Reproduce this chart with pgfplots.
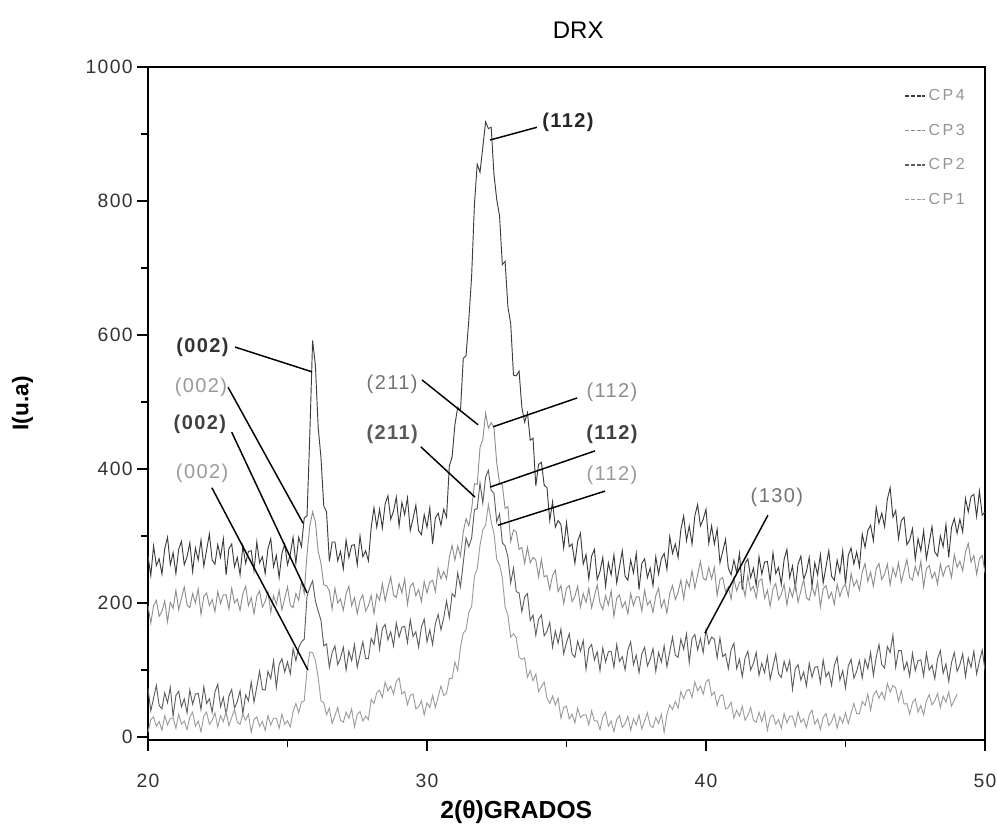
\documentclass[border=0pt]{standalone}
\usepackage{pgfplots}
\pgfplotsset{compat=1.18}
\usepackage{pgfplotstable}
\usepackage{fontspec}
\setmainfont{Liberation Sans}
\newfontfamily\spaced[LetterSpace=7]{Liberation Sans}
\newfontfamily\wide[LetterSpace=15]{Liberation Sans}
\definecolor{cpfour}{HTML}{3C3C3C}
\definecolor{cpthree}{HTML}{8E8E8E}
\definecolor{cptwo}{HTML}{5E5E5E}
\definecolor{cpone}{HTML}{9C9C9C}

% DRX patterns, columns CP4 CP3 CP2 CP1
\pgfplotstableread{
x cp4 cp3 cp2 cp1
20.0 270 196 73 7
20.1 241 170 39 26
20.2 285 196 58 30
20.3 256 204 77 16
20.4 266 180 47 23
20.5 243 188 42 10
20.6 281 203 66 32
20.7 298 172 51 18
20.8 257 201 74 28
20.9 275 192 31 28
21.0 244 219 62 13
21.1 280 190 68 34
21.2 292 207 45 19
21.3 257 224 57 24
21.4 269 197 36 11
21.5 290 193 70 30
21.6 247 214 49 37
21.7 282 200 64 16
21.8 264 221 65 24
21.9 294 183 41 8
22.0 255 210 75 31
22.1 279 215 50 37
22.2 303 196 57 19
22.3 264 205 37 25
22.4 258 187 67 36
22.5 287 217 79 15
22.6 268 199 45 32
22.7 296 212 59 23
22.8 242 212 33 38
22.9 281 191 61 17
23.0 288 222 71 29
23.1 254 200 43 41
23.2 268 206 53 22
23.3 242 189 69 19
23.4 285 214 35 34
23.5 259 225 63 25
23.6 277 196 54 34
23.7 278 208 82 7
23.8 248 184 52 26
23.9 291 210 75 30
24.0 260 218 98 16
24.1 269 194 71 23
24.2 244 202 70 10
24.3 281 217 98 32
24.4 296 186 87 18
24.5 254 211 114 28
24.6 271 198 74 28
24.7 238 219 108 13
24.8 274 190 117 34
24.9 288 207 97 19
25.0 257 224 112 24
25.1 273 197 94 15
25.2 298 193 132 38
25.3 259 214 114 50
25.4 298 204 133 36
25.5 284 232 142 52
25.6 327 214 146 54
25.7 330 273 210 100
25.8 452 315 223 127
25.9 592 336 233 126
26.0 555 321 203 114
26.1 462 277 188 89
26.2 417 259 174 54
26.3 345 227 136 51
26.4 336 226 139 33
26.5 262 218 104 43
26.6 291 191 126 20
26.7 291 222 136 32
26.8 263 200 108 44
26.9 277 206 118 25
27.0 251 189 134 22
27.1 294 214 100 37
27.2 268 225 128 28
27.3 286 196 114 42
27.4 287 208 138 15
27.5 257 184 104 34
27.6 300 204 123 38
27.7 269 212 142 24
27.8 278 188 117 31
27.9 263 196 117 26
28.0 313 211 147 56
28.1 342 184 138 50
28.2 313 213 167 66
28.3 340 204 131 70
28.4 312 229 162 59
28.5 348 203 168 82
28.6 360 222 145 69
28.7 325 239 157 76
28.8 337 212 136 64
28.9 358 208 170 83
29.0 315 229 149 88
29.1 350 215 164 64
29.2 332 236 165 68
29.3 357 198 141 48
29.4 308 225 175 62
29.5 326 230 150 64
29.6 346 211 157 42
29.7 308 220 134 45
29.8 302 202 164 54
29.9 332 232 176 33
30.0 313 215 142 51
30.1 342 231 160 44
30.2 288 234 138 62
30.3 327 217 169 44
30.4 334 252 183 60
30.5 316 236 160 76
30.6 340 247 178 62
30.7 328 236 203 65
30.8 404 268 178 87
30.9 418 286 214 87
31.0 466 264 209 112
31.1 492 285 245 99
31.2 487 270 224 134
31.3 565 306 260 155
31.4 569 326 297 160
31.5 623 315 284 186
31.6 688 340 297 195
31.7 795 378 339 240
31.8 855 377 341 251
31.9 843 432 379 286
32.0 880 444 349 309
32.1 918 483 388 316
32.2 908 461 398 347
32.3 910 469 368 322
32.4 840 462 364 304
32.5 802 409 321 265
32.6 778 379 333 257
32.7 705 376 290 238
32.8 710 341 285 194
32.9 642 344 269 182
33.0 617 292 230 149
33.1 540 309 252 154
33.2 539 306 217 148
33.3 546 280 215 119
33.4 492 283 187 116
33.5 470 259 209 118
33.6 484 283 214 89
33.7 443 260 174 99
33.8 446 268 182 84
33.9 375 264 152 94
34.0 407 239 176 68
34.1 410 265 182 75
34.2 376 239 151 82
34.3 372 241 158 58
34.4 323 220 171 50
34.5 351 241 134 61
34.6 313 249 158 48
34.7 323 217 140 58
34.8 317 226 161 28
34.9 282 199 124 44
35.0 320 222 141 46
35.1 284 226 154 27
35.2 288 202 124 34
35.3 259 210 119 21
35.4 292 225 143 43
35.5 304 194 128 29
35.6 258 214 144 33
35.7 272 201 101 33
35.8 236 222 132 18
35.9 270 193 138 39
36.0 280 210 115 24
36.1 235 227 127 24
36.2 247 200 99 11
36.3 268 190 133 30
36.4 225 211 112 37
36.5 260 197 127 16
36.6 242 218 128 24
36.7 272 180 104 8
36.8 230 207 138 26
36.9 254 212 113 32
37.0 278 193 120 14
37.1 240 202 100 20
37.2 234 184 130 31
37.3 264 214 142 10
37.4 245 196 108 27
37.5 274 209 122 18
37.6 220 209 96 33
37.7 259 188 124 12
37.8 266 219 134 24
37.9 238 197 106 36
38.0 252 203 116 17
38.1 226 186 132 14
38.2 269 211 98 29
38.3 243 222 126 20
38.4 266 193 112 34
38.5 274 205 136 7
38.6 250 185 105 34
38.7 299 214 127 48
38.8 274 226 149 41
38.9 288 205 122 53
39.0 268 216 119 43
39.1 310 234 146 68
39.2 330 206 131 57
39.3 293 234 154 69
39.4 315 224 111 71
39.5 288 248 147 59
39.6 330 222 153 82
39.7 347 242 130 69
39.8 315 262 147 76
39.9 325 237 126 64
40.0 340 234 160 82
40.1 289 253 139 86
40.2 315 236 149 62
40.3 288 253 146 67
40.4 310 211 118 47
40.5 260 235 148 61
40.6 277 238 120 63
40.7 295 217 124 42
40.8 252 224 102 44
40.9 242 206 130 52
41.0 264 236 140 28
41.1 245 218 102 40
41.2 274 231 116 31
41.3 220 231 90 46
41.4 259 210 118 25
41.5 266 241 128 32
41.6 238 219 100 44
41.7 252 225 110 25
41.8 226 208 126 22
41.9 269 233 92 37
42.0 243 236 110 23
42.1 261 207 96 37
42.2 262 219 120 10
42.3 232 195 86 29
42.4 275 221 105 33
42.5 244 229 124 19
42.6 253 205 94 26
42.7 228 213 89 13
42.8 265 228 113 35
42.9 280 197 98 21
43.0 238 222 114 31
43.1 255 209 71 31
43.2 222 230 102 16
43.3 258 201 108 37
43.4 270 218 85 22
43.5 235 235 97 27
43.6 247 208 76 14
43.7 268 204 110 33
43.8 225 225 89 40
43.9 260 211 104 19
44.0 242 232 105 27
44.1 272 194 81 11
44.2 230 221 115 29
44.3 254 226 90 35
44.4 278 207 97 17
44.5 240 216 77 23
44.6 234 198 107 34
44.7 264 228 119 13
44.8 245 210 85 30
44.9 278 223 99 21
45.0 228 228 73 36
45.1 271 210 106 20
45.2 282 244 116 35
45.3 258 225 88 50
45.4 276 234 98 35
45.5 254 219 114 35
45.6 303 246 88 53
45.7 283 259 116 47
45.8 308 232 102 64
45.9 316 246 126 40
46.0 293 225 92 62
46.1 343 251 119 69
46.2 319 259 138 58
46.3 334 235 108 67
46.4 314 243 103 56
46.5 355 258 135 80
46.6 372 227 126 67
46.7 328 252 152 77
46.8 338 239 104 73
46.9 296 260 129 53
47.0 323 231 129 69
47.1 328 248 100 49
47.2 287 265 112 50
47.3 294 238 91 34
47.4 311 234 125 51
47.5 265 255 99 57
47.6 296 241 114 37
47.7 278 262 115 47
47.8 308 224 91 33
47.9 266 251 125 54
48.0 290 256 100 63
48.1 314 237 107 48
48.2 276 246 87 54
48.3 270 228 117 65
48.4 300 258 129 44
48.5 284 240 95 61
48.6 317 253 109 52
48.7 268 256 83 67
48.8 313 238 111 46
48.9 326 272 126 55
49.0 304 253 98 64
49.1 325 262 108 nan
49.2 306 248 124 nan
49.3 356 276 90 nan
49.4 336 289 118 nan
49.5 359 261 104 nan
49.6 362 271 128 nan
49.7 329 243 94 nan
49.8 367 266 113 nan
49.9 331 271 130 nan
50.0 336 245 100 nan
}\drx

\begin{document}
\begin{tikzpicture}[
  lead/.style={black, line width=1.1pt},
  lbl/.style={font=\spaced\fontsize{15}{17}\selectfont, inner sep=0pt},
]
\begin{axis}[
  scale only axis, width=627.75pt, height=504.75pt,
  xmin=20, xmax=50, ymin=-4.5, ymax=1000,
  xtick={20,30,40,50}, minor xtick={25,35,45},
  ytick={0,200,...,1000}, minor ytick={100,300,...,900},
  tick align=outside, xtick pos=bottom, ytick pos=left,
  major tick length=8pt, minor tick length=5pt,
  axis line style={line width=1.3pt},
  every tick/.style={black, line width=1pt},
  /pgf/number format/assume math mode=true,
  /pgf/number format/1000 sep={},
  ticklabel style={font=\spaced\fontsize{14.5}{16}\selectfont, text=black!80},
  xticklabel style={yshift=-14pt},
  title={\fontsize{18}{20}\selectfont DRX},
  title style={at={(0.514,1.043)}, anchor=center},
  xlabel={\bfseries\fontsize{18.5}{20}\selectfont 2(θ)GRADOS},
  xlabel style={at={(0.44,-0.107)}, anchor=center},
  ylabel={\bfseries\fontsize{17}{19}\selectfont I(u.a)},
  ylabel style={at={(-0.15,0.5)}, anchor=center},
  legend style={at={(0.984,0.975)}, anchor=north east, draw=none, fill=none,
    font=\wide\fontsize{12}{13}\selectfont, text=black!42, row sep=12pt},
  legend cell align=left,
  legend image code/.code={\draw[#1, line width=0.9pt, dash pattern=on 3pt off 1.2pt] (0pt,0pt) -- (15pt,0pt);},
]
\addplot[cpfour, line width=0.7pt, no marks] table[x=x, y=cp4] {\drx};
\addlegendentry{CP4}
\addplot[cpthree, line width=0.7pt, no marks] table[x=x, y=cp3] {\drx};
\addlegendentry{CP3}
\addplot[cptwo, line width=0.7pt, no marks] table[x=x, y=cp2] {\drx};
\addlegendentry{CP2}
\addplot[cpone, line width=0.7pt, no marks] table[x=x, y=cp1] {\drx};
\addlegendentry{CP1}

% leader lines and Miller indices
\draw[lead] (axis cs:33.94,910) -- (axis cs:32.26,891);
\node[lbl, text=black!85, font=\spaced\bfseries\fontsize{15}{17}\selectfont] at (axis cs:35.05,918) {(112)};

\draw[lead] (axis cs:23.12,582) -- (axis cs:25.88,545);
\node[lbl, text=black!80, font=\spaced\bfseries\fontsize{15}{17}\selectfont] at (axis cs:21.95,581) {(002)};
\draw[lead] (axis cs:22.87,522) -- (axis cs:25.56,319);
\node[lbl, text=black!40] at (axis cs:21.90,522) {(002)};
\draw[lead] (axis cs:23.00,455) -- (axis cs:25.70,215);
\node[lbl, text=black!75, font=\spaced\bfseries\fontsize{15}{17}\selectfont] at (axis cs:21.86,466) {(002)};
\draw[lead] (axis cs:22.29,372) -- (axis cs:25.73,100);
\node[lbl, text=black!40] at (axis cs:21.94,393) {(002)};

\draw[lead] (axis cs:29.82,533) -- (axis cs:31.83,466);
\node[lbl, text=black!55] at (axis cs:28.75,527) {(211)};
\draw[lead] (axis cs:32.37,463) -- (axis cs:35.38,506);
\node[lbl, text=black!45] at (axis cs:36.63,515) {(112)};

\draw[lead] (axis cs:29.78,433) -- (axis cs:31.72,358);
\node[lbl, text=black!65, font=\spaced\bfseries\fontsize{15}{17}\selectfont] at (axis cs:28.75,452) {(211)};
\draw[lead] (axis cs:32.26,373) -- (axis cs:36.02,427);
\node[lbl, text=black!75, font=\spaced\bfseries\fontsize{15}{17}\selectfont] at (axis cs:36.63,452) {(112)};

\draw[lead] (axis cs:32.54,316) -- (axis cs:36.38,367);
\node[lbl, text=black!40] at (axis cs:36.63,390) {(112)};

\draw[lead] (axis cs:42.22,331) -- (axis cs:39.96,155);
\node[lbl, text=black!55] at (axis cs:42.54,357) {(130)};
\end{axis}
\pgfresetboundingbox
\path[use as bounding box] ([xshift=-111pt,yshift=-69pt]current axis.south west)
  rectangle ([xshift=9pt,yshift=50.25pt]current axis.north east);
\end{tikzpicture}
\end{document}
